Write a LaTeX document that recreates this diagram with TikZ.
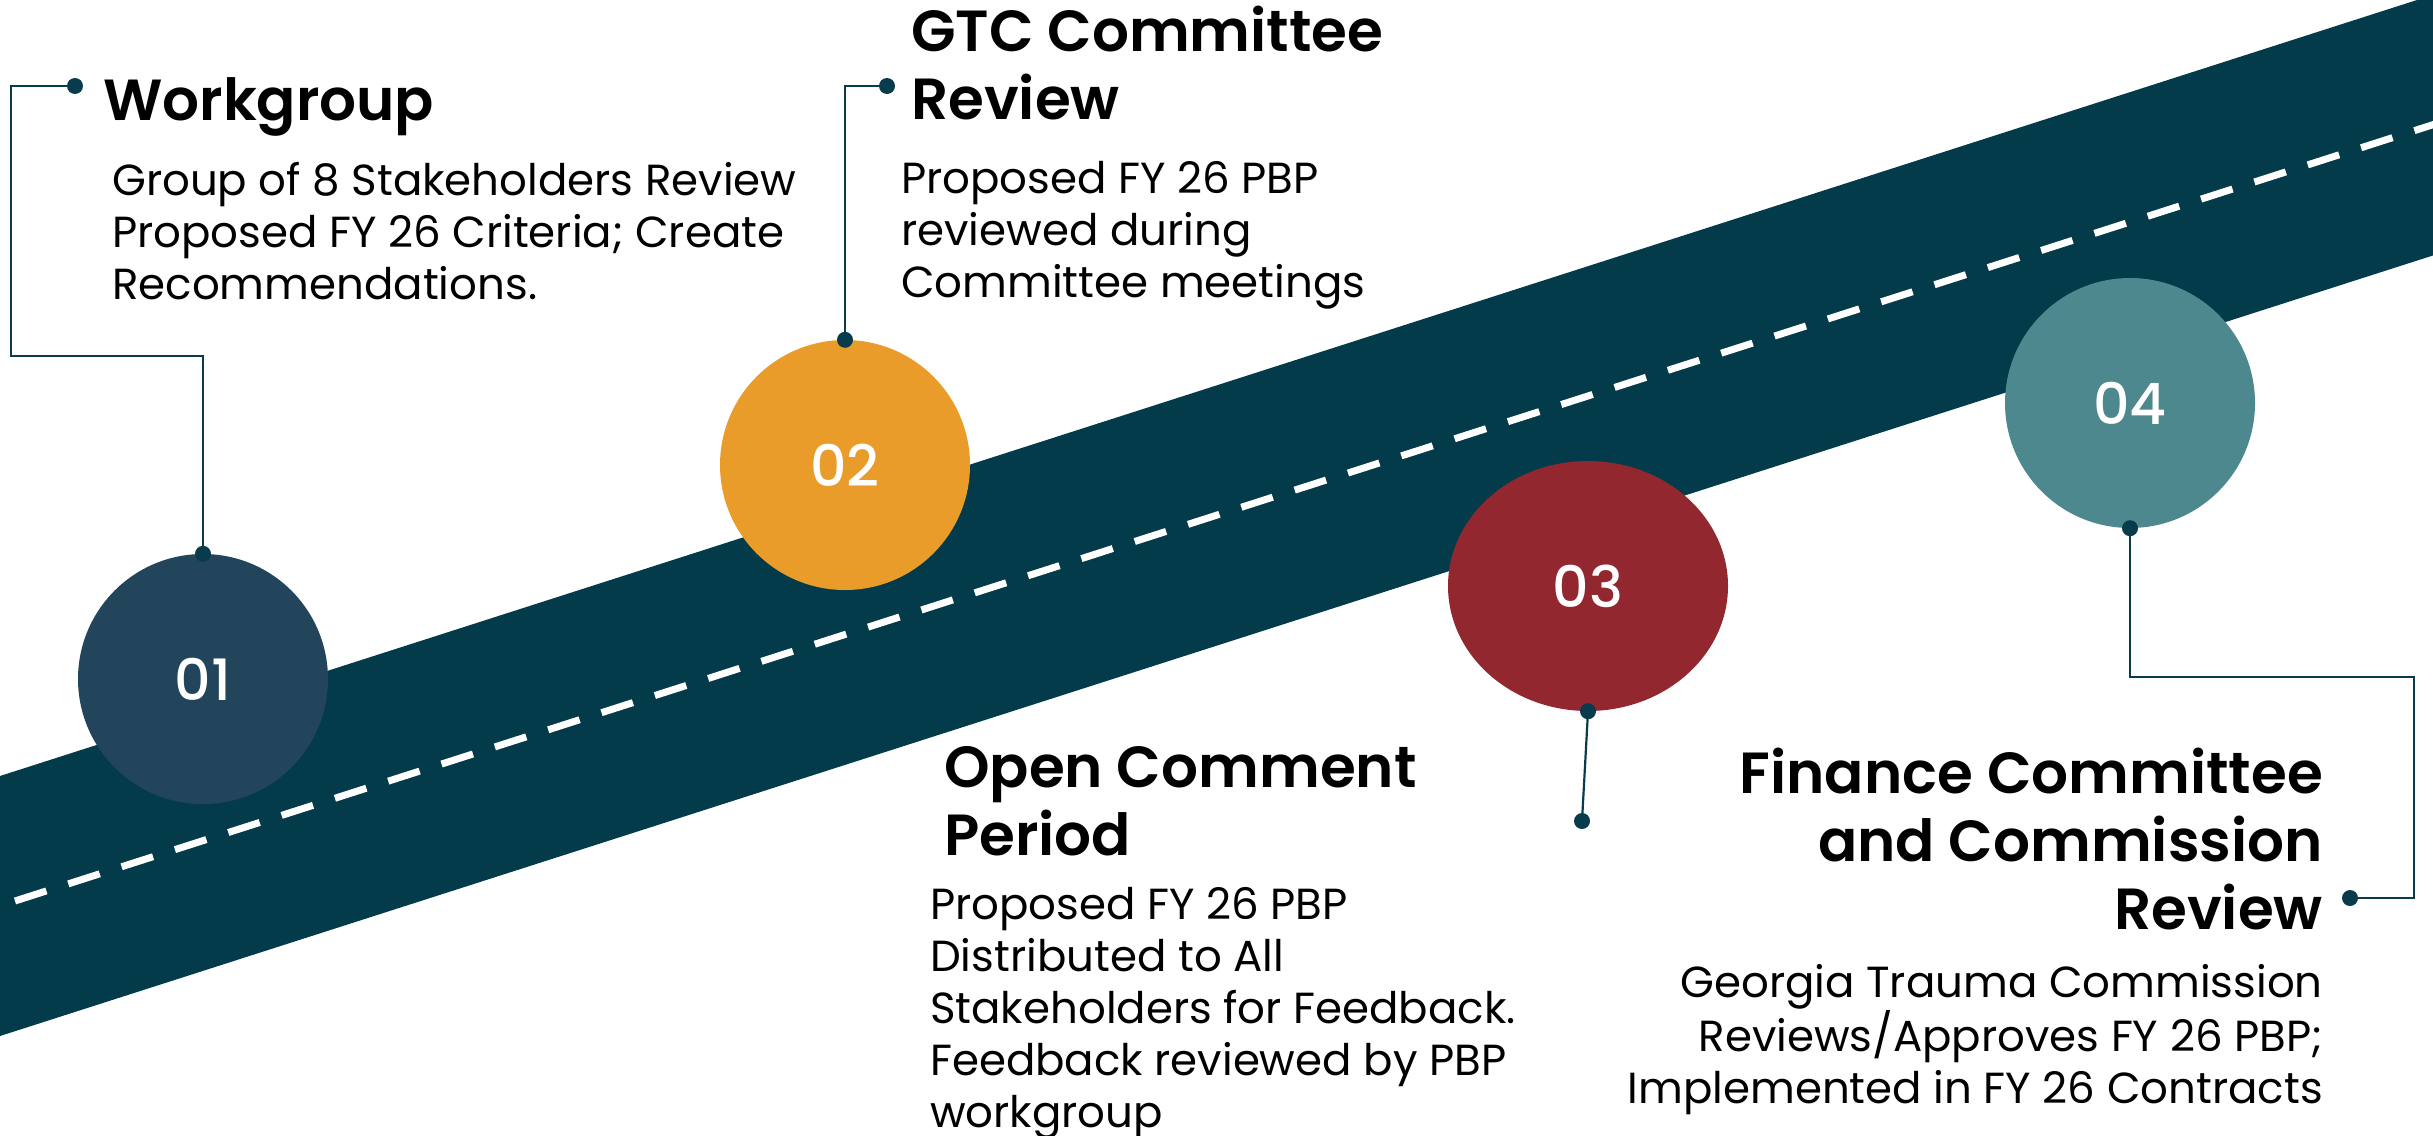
\documentclass[tikz,border=0pt]{standalone}
\usepackage{fontspec}
\setmainfont{Poppins}[BoldFont={Poppins SemiBold}]
\newfontfamily\digitfont{Poppins Medium}
\usetikzlibrary{shapes.geometric}
\definecolor{bandc}{RGB}{3,59,74}
\definecolor{linkc}{RGB}{8,60,77}
\definecolor{cone}{RGB}{34,69,92}
\definecolor{ctwo}{RGB}{234,156,43}
\definecolor{cthree}{RGB}{147,39,47}
\definecolor{cfour}{RGB}{78,136,143}
\tikzset{
  roaddash/.style={draw=white, line width=7pt, dash pattern=on 33pt off 23pt},
  stepcircle/.style={circle, minimum size=250pt, inner sep=0pt, text=white, font=\digitfont\fontsize{57}{57}\selectfont},
  stepoval/.style={ellipse, minimum width=280pt, minimum height=250pt, inner sep=0pt, text=white, font=\digitfont\fontsize{57}{57}\selectfont},
  link/.style={draw=linkc, line width=2.2pt},
  pin/.style={circle, fill=linkc, minimum size=16pt, inner sep=0pt},
  ttl/.style={font=\bfseries\fontsize{58}{68}\selectfont, inner sep=0pt, align=left, text=black},
  bodytxt/.style={font=\fontsize{43.5}{52}\selectfont, inner sep=0pt, align=left, text=black}
}
\begin{document}
\begin{tikzpicture}[x=1pt,y=-1pt]
\useasboundingbox (0,0) rectangle (2433,1135);
\begin{scope}
\clip (0,0) rectangle (2433,1135);
\fill[bandc] (0,776) -- (2417,0) -- (2450,0) -- (2450,250) -- (0,1036) -- cycle;
\draw[roaddash] (15,901) -- (2460,116);
\end{scope}
% steps
\node[stepcircle, fill=cone] (s1) at (203,679) {01};
\node[stepcircle, fill=ctwo] (s2) at (845,465) {02};
\node[stepoval, fill=cthree] (s3) at (1588,586) {03};
\node[stepcircle, fill=cfour] (s4) at (2130,403) {04};
% pins
\node[pin] (p1a) at (75,86) {};
\node[pin] (p1b) at (s1.north) {};
\node[pin] (p2a) at (887,86) {};
\node[pin] (p2b) at (s2.north) {};
\node[pin] (p3a) at (s3.south) {};
\node[pin] (p3b) at (1582,821) {};
\node[pin] (p4a) at (s4.south) {};
\node[pin] (p4b) at (2350,898) {};
% connectors
\draw[link] (p1a.center) -- (11,86) -- (11,356) -| (p1b.center);
\draw[link] (p2a.center) -| (p2b.center);
\draw[link] (p3a.center) -- (p3b.center);
\draw[link] (p4a.center) |- (2414,677) |- (p4b.center);
% texts (anchor = baseline of last line)
\node[ttl, anchor=base west] (t1) at (103,120) {Workgroup};
\node[bodytxt, anchor=base west] (b1) at (112,299) {Group of 8 Stakeholders Review\\Proposed FY 26 Criteria; Create\\Recommendations.};
\node[ttl, anchor=base west] (t2) at (911,119) {GTC Committee\\Review};
\node[bodytxt, anchor=base west] (b2) at (901,297) {Proposed FY 26 PBP\\reviewed during\\Committee meetings};
\node[ttl, anchor=base west] (t3) at (944,855) {Open Comment\\Period};
\node[bodytxt, anchor=base west] (b3) at (930,1127) {Proposed FY 26 PBP\\Distributed to All\\Stakeholders for Feedback.\\Feedback reviewed by PBP\\workgroup};
\node[ttl, anchor=base east, align=right] (t4) at (2323,929) {Finance Committee\\and Commission\\Review};
\node[bodytxt, anchor=base east, align=right] (b4) at (2323,1103) {Georgia Trauma Commission\\Reviews/Approves FY 26 PBP;\\Implemented in FY 26 Contracts};
\end{tikzpicture}
\end{document}
